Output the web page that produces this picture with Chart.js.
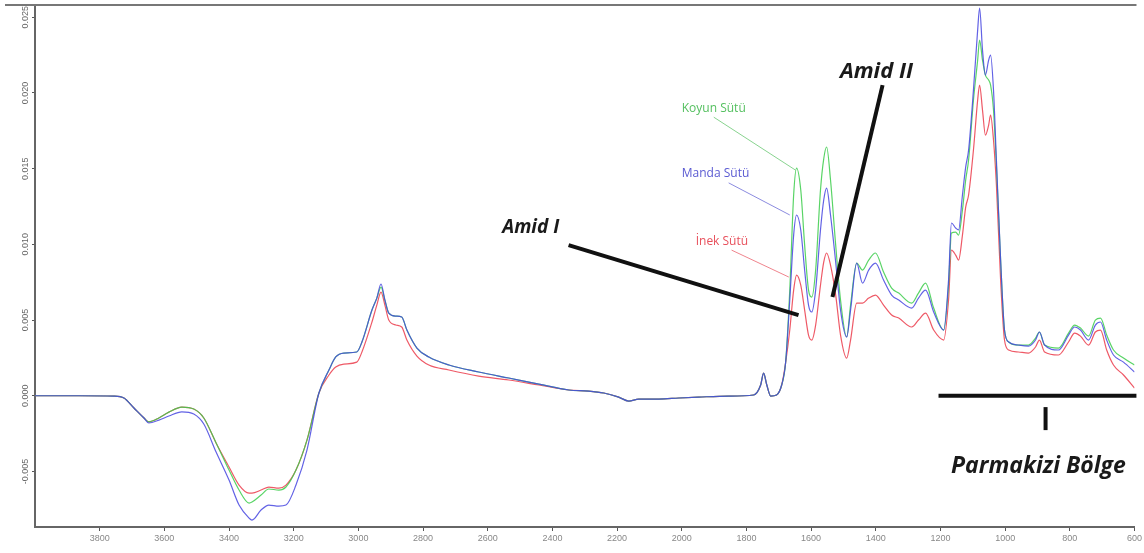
<!DOCTYPE html>
<html lang="tr">
<head>
<meta charset="UTF-8">
<title>FTIR - Süt Spektrumları</title>
<script src="https://cdn.jsdelivr.net/npm/chart.js"></script>
<style>
    html, body {
        margin: 0;
        padding: 0;
        background: #ffffff;
    }
    .chart-wrap {
        width: 1144px;
        height: 553px;
        position: relative;
    }
</style>
</head>
<body>
<div class="chart-wrap">
    <canvas id="spectrum"></canvas>
</div>

<script>
// wavenumber (cm-1)
const wavenumbers = [4000, 3864, 3756, 3725, 3694, 3663, 3648, 3617, 3586, 3546, 3509, 3478, 3440, 3400, 3369, 3338, 3329, 3301, 3277, 3246,
    3224, 3193, 3159, 3122, 3091, 3070, 3045, 3005, 2989, 2958, 2943, 2930, 2918, 2906, 2884, 2866, 2850, 2819, 2782, 2720,
    2628, 2535, 2442, 2349, 2288, 2241, 2195, 2164, 2133, 2071, 2009, 1948, 1855, 1778, 1756, 1747, 1737, 1725, 1707, 1691,
    1679, 1666, 1654, 1645, 1632, 1620, 1608, 1598, 1586, 1571, 1561, 1552, 1540, 1524, 1509, 1490, 1478, 1459, 1441, 1422,
    1401, 1376, 1351, 1329, 1289, 1268, 1246, 1221, 1190, 1175, 1166, 1153, 1144, 1132, 1122, 1113, 1098, 1085, 1079, 1070,
    1061, 1051, 1045, 1036, 1027, 1014, 1002, 989, 959, 928, 906, 894, 878, 835, 804, 785, 767, 742, 721, 705,
    686, 665, 634, 600];

// Koyun Sütü (green)
const koyun = [0, 0, -0.00002, -0.00015, -0.00081, -0.00147, -0.00172, -0.00147, -0.00108, -0.00075, -0.00088, -0.00147, -0.00312, -0.00491, -0.00623, -0.00709, -0.00702, -0.00656, -0.00616, -0.00623,
    -0.00603, -0.00491, -0.00293, 0.00018, 0.00170, 0.00256, 0.00282, 0.00289, 0.00355, 0.00566, 0.00645, 0.00718, 0.00632, 0.00546, 0.00526, 0.00520, 0.00434, 0.00315, 0.00256, 0.00203,
    0.00157, 0.00117, 0.00077, 0.00038, 0.00031, 0.00018, -0.00009, -0.00035, -0.00022, -0.00022, -0.00015, -0.00009, -0.00002, 0.00005, 0.00071, 0.00150, 0.00071, -0.00002, 0.00005, 0.00071,
    0.00216, 0.00698, 0.01326, 0.01504, 0.01359, 0.00995, 0.00698, 0.00652, 0.00830, 0.01359, 0.01565, 0.01643, 0.01425, 0.00995, 0.00632, 0.00388, 0.00599, 0.00876, 0.00830, 0.00896,
    0.00943, 0.00817, 0.00711, 0.00678, 0.00612, 0.00678, 0.00744, 0.00579, 0.00434, 0.00731, 0.01075, 0.01081, 0.01061, 0.01227, 0.01425, 0.01557, 0.01953, 0.02217, 0.02349, 0.02217,
    0.02118, 0.02085, 0.02052, 0.01887, 0.01523, 0.00896, 0.00434, 0.00355, 0.00335, 0.00335, 0.00381, 0.00421, 0.00335, 0.00315, 0.00414, 0.00467, 0.00447, 0.00394, 0.00500, 0.00513,
    0.00401, 0.00302, 0.00249, 0.00203];

// Manda Sütü (blue)
const manda = [0, 0, -0.00002, -0.00015, -0.00081, -0.00147, -0.00180, -0.00161, -0.00134, -0.00106, -0.00121, -0.00187, -0.00372, -0.00557, -0.00722, -0.00808, -0.00821, -0.00755, -0.00722, -0.00729,
    -0.00722, -0.00590, -0.00359, 0.00018, 0.00170, 0.00256, 0.00282, 0.00289, 0.00355, 0.00566, 0.00645, 0.00738, 0.00632, 0.00546, 0.00526, 0.00520, 0.00434, 0.00315, 0.00256, 0.00203,
    0.00157, 0.00117, 0.00077, 0.00038, 0.00031, 0.00018, -0.00009, -0.00035, -0.00022, -0.00022, -0.00015, -0.00009, -0.00002, 0.00005, 0.00071, 0.00150, 0.00071, -0.00002, 0.00005, 0.00071,
    0.00216, 0.00632, 0.01061, 0.01194, 0.01095, 0.00830, 0.00599, 0.00553, 0.00698, 0.01095, 0.01293, 0.01372, 0.01194, 0.00883, 0.00566, 0.00388, 0.00566, 0.00876, 0.00744, 0.00830,
    0.00876, 0.00764, 0.00665, 0.00632, 0.00579, 0.00645, 0.00698, 0.00553, 0.00434, 0.00764, 0.01141, 0.01108, 0.01095, 0.01326, 0.01510, 0.01623, 0.02019, 0.02415, 0.02561, 0.02283,
    0.02118, 0.02217, 0.02250, 0.02019, 0.01557, 0.00896, 0.00434, 0.00355, 0.00335, 0.00328, 0.00368, 0.00421, 0.00335, 0.00302, 0.00401, 0.00454, 0.00434, 0.00368, 0.00467, 0.00487,
    0.00368, 0.00269, 0.00222, 0.00157];

// İnek Sütü (red)
const inek = [0, 0, -0.00002, -0.00015, -0.00081, -0.00147, -0.00172, -0.00147, -0.00108, -0.00075, -0.00088, -0.00147, -0.00312, -0.00471, -0.00590, -0.00643, -0.00643, -0.00623, -0.00603, -0.00610,
    -0.00590, -0.00491, -0.00293, 0.00018, 0.00137, 0.00190, 0.00209, 0.00222, 0.00289, 0.00487, 0.00599, 0.00685, 0.00599, 0.00500, 0.00467, 0.00454, 0.00368, 0.00262, 0.00203, 0.00170,
    0.00130, 0.00104, 0.00071, 0.00038, 0.00031, 0.00018, -0.00009, -0.00035, -0.00022, -0.00022, -0.00015, -0.00009, -0.00002, 0.00005, 0.00071, 0.00150, 0.00071, -0.00002, 0.00005, 0.00071,
    0.00216, 0.00434, 0.00698, 0.00797, 0.00731, 0.00566, 0.00401, 0.00368, 0.00467, 0.00731, 0.00883, 0.00943, 0.00863, 0.00665, 0.00401, 0.00249, 0.00368, 0.00612, 0.00612, 0.00645,
    0.00665, 0.00599, 0.00533, 0.00513, 0.00454, 0.00500, 0.00546, 0.00434, 0.00368, 0.00632, 0.00962, 0.00929, 0.00896, 0.01061, 0.01246, 0.01326, 0.01623, 0.01953, 0.02052, 0.01887,
    0.01722, 0.01788, 0.01854, 0.01689, 0.01392, 0.00764, 0.00368, 0.00302, 0.00289, 0.00282, 0.00322, 0.00368, 0.00289, 0.00269, 0.00355, 0.00414, 0.00394, 0.00335, 0.00421, 0.00434,
    0.00302, 0.00203, 0.00137, 0.00051];

const xTicks = [3800, 3600, 3400, 3200, 3000, 2800, 2600, 2400, 2200, 2000, 1800, 1600, 1400, 1200, 1000, 800, 600];
const yTicks = [-0.005, 0, 0.005, 0.010, 0.015, 0.020, 0.025];
const yTickLabels = ['-0.005', '0.000', '0.005', '0.010', '0.015', '0.020', '0.025'];

// labels with thin leader lines, in data coords (wavenumber, absorbance)
const seriesLabels = [
    { text: 'Koyun Sütü', color: '#55c060', at: [2000, 0.0190], from: [1901, 0.0184], to: [1648, 0.0149] },
    { text: 'Manda Sütü', color: '#5a5ad2', at: [2000, 0.0147], from: [1855, 0.01406], to: [1666, 0.01194] },
    { text: 'İnek Sütü', color: '#e8505c', at: [1957, 0.0102], from: [1846, 0.00962], to: [1669, 0.00784] }
];

// big black notes
const notes = [
    { text: 'Amid I', size: 19, at: [2467, 0.0111], from: [2350, 0.00995], to: [1639, 0.00533] },
    { text: 'Amid II', size: 22, at: [1398, 0.02138], from: [1379, 0.02052], to: [1534, 0.00652] },
    { text: 'Parmakizi Bölge', size: 23, at: [897, -0.00464], from: [1206, 0.0], to: [594, 0.0] }
];
const fingerprintTick = { x: 875, y1: -0.00075, y2: -0.00227 };

function toPoints(values) {
    return wavenumbers.map((w, i) => ({ x: w, y: values[i] }));
}

const annotationPlugin = {
    id: 'spectrumNotes',
    afterDraw(chart) {
        const ctx = chart.ctx;
        const xs = chart.scales.x;
        const ys = chart.scales.y;
        const px = p => [xs.getPixelForValue(p[0]), ys.getPixelForValue(p[1])];
        const area = chart.chartArea;

        ctx.save();

        // top frame line
        ctx.strokeStyle = '#777';
        ctx.lineWidth = 2;
        ctx.beginPath();
        ctx.moveTo(5, area.top);
        ctx.lineTo(area.right + 2, area.top);
        ctx.stroke();

        // rotated y tick labels
        ctx.fillStyle = '#666';
        ctx.font = '9px "Liberation Sans", Arial, sans-serif';
        ctx.textAlign = 'center';
        ctx.textBaseline = 'middle';
        yTicks.forEach((v, i) => {
            const y = ys.getPixelForValue(v);
            ctx.save();
            ctx.translate(26, y);
            ctx.rotate(-Math.PI / 2);
            ctx.fillText(yTickLabels[i], 0, 0);
            ctx.restore();
        });

        // series labels
        ctx.font = '12px "Open Sans", sans-serif';
        ctx.textAlign = 'left';
        seriesLabels.forEach(l => {
            const a = px(l.at), f = px(l.from), t = px(l.to);
            ctx.fillStyle = l.color;
            ctx.fillText(l.text, a[0], a[1]);
            ctx.strokeStyle = l.color;
            ctx.globalAlpha = 0.7;
            ctx.lineWidth = 1;
            ctx.beginPath();
            ctx.moveTo(f[0], f[1]);
            ctx.lineTo(t[0], t[1]);
            ctx.stroke();
            ctx.globalAlpha = 1;
        });

        // notes
        ctx.fillStyle = '#1a1a1a';
        ctx.strokeStyle = '#111';
        ctx.lineWidth = 4;
        ctx.textAlign = 'center';
        notes.forEach(n => {
            const a = px(n.at), f = px(n.from), t = px(n.to);
            ctx.font = 'italic bold ' + n.size + 'px "Open Sans", sans-serif';
            ctx.fillText(n.text, a[0], a[1]);
            ctx.beginPath();
            ctx.moveTo(f[0], f[1]);
            ctx.lineTo(t[0], t[1]);
            ctx.stroke();
        });
        const tx = xs.getPixelForValue(fingerprintTick.x);
        ctx.beginPath();
        ctx.moveTo(tx, ys.getPixelForValue(fingerprintTick.y1));
        ctx.lineTo(tx, ys.getPixelForValue(fingerprintTick.y2));
        ctx.stroke();

        ctx.restore();
    }
};

const ctx = document.getElementById('spectrum').getContext('2d');
new Chart(ctx, {
    type: 'line',
    data: {
        datasets: [
            { label: 'Manda Sütü', data: toPoints(manda), borderColor: 'rgba(70, 70, 225, 0.85)' },
            { label: 'Koyun Sütü', data: toPoints(koyun), borderColor: 'rgba(60, 205, 75, 0.85)' },
            { label: 'İnek Sütü', data: toPoints(inek), borderColor: 'rgba(235, 60, 75, 0.85)' }
        ]
    },
    options: {
        responsive: true,
        maintainAspectRatio: false,
        animation: false,
        parsing: false,
        layout: { padding: { top: 5, right: 8, left: 0, bottom: 0 } },
        elements: {
            point: { radius: 0 },
            line: { borderWidth: 1.2, cubicInterpolationMode: 'monotone', fill: false }
        },
        plugins: {
            legend: { display: false },
            tooltip: { enabled: false }
        },
        scales: {
            x: {
                type: 'linear',
                reverse: true,
                min: 600,
                max: 4000,
                afterBuildTicks: s => { s.ticks = xTicks.map(v => ({ value: v })); },
                afterFit: s => { s.height = 26; },
                ticks: {
                    color: '#888',
                    font: { size: 9, family: '"Liberation Sans", Arial, sans-serif' },
                    maxRotation: 0,
                    autoSkip: false,
                    padding: 2,
                    callback: v => String(v)
                },
                grid: { display: true, drawOnChartArea: false, drawTicks: true, tickLength: 4, color: '#555' },
                border: { display: true, color: '#666', width: 2 }
            },
            y: {
                type: 'linear',
                min: -0.00867,
                max: 0.02581,
                afterBuildTicks: s => { s.ticks = yTicks.map(v => ({ value: v })); },
                afterFit: s => { s.width = 35; },
                ticks: { display: false },
                grid: { display: true, drawOnChartArea: false, drawTicks: true, tickLength: 3, color: '#555' },
                border: { display: true, color: '#666', width: 2 }
            }
        }
    },
    plugins: [annotationPlugin]
});
</script>
</body>
</html>
